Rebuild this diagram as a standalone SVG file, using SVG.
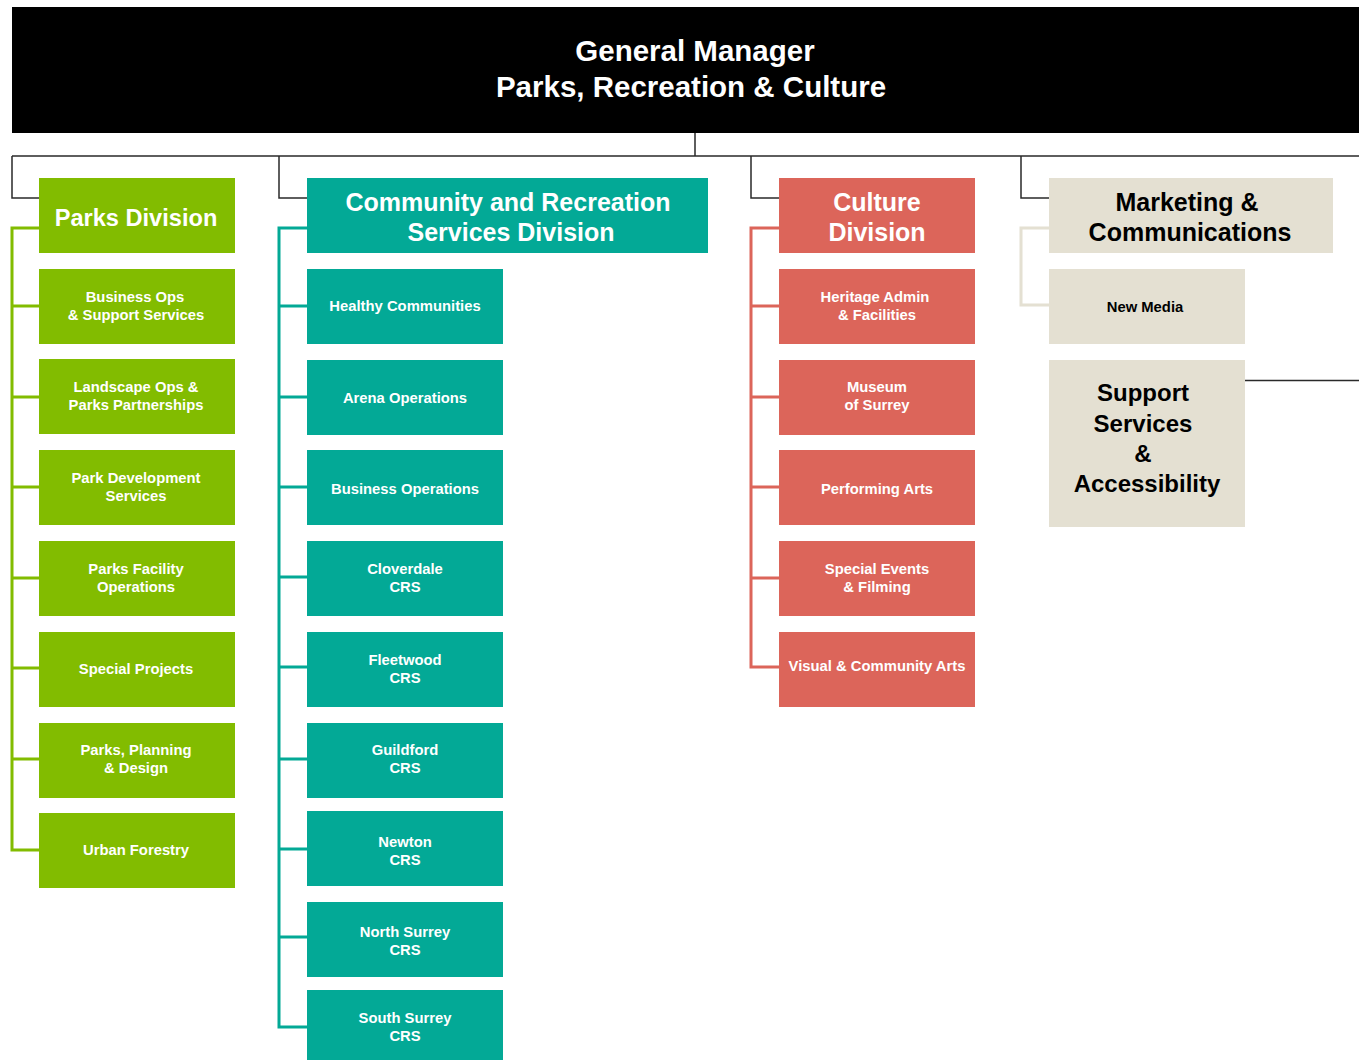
<svg xmlns="http://www.w3.org/2000/svg" width="1359" height="1060" viewBox="0 0 1359 1060">
<style>
text{font-family:"Liberation Sans",Arial,sans-serif;font-weight:bold;text-anchor:middle}
.w{fill:#fff}
.k{fill:#000}
.big{font-size:25px}
.sm{font-size:14.8px}
.g{fill:#82bc00}
.t{fill:#03a996}
.r{fill:#dc655a}
.b{fill:#e4e0d2}
.ln{fill:none;stroke:#2a2a2a;stroke-width:1.5}
.lg{fill:none;stroke:#82bc00;stroke-width:3}
.lt{fill:none;stroke:#03a996;stroke-width:3}
.lr{fill:none;stroke:#dc655a;stroke-width:3}
.lb{fill:none;stroke:#e4e0d2;stroke-width:3}
</style>
<rect width="1359" height="1060" fill="#fff"/>
<g id="connectors">
<path class="ln" d="M695 133V156M12 156H1359M12 156V198H39M279 156V198H307M751 156V198H779M1021 156V198H1049M1245 380.5H1359"/>
<path class="lg" d="M39 228H12V850H39M12 306H39M12 397H39M12 487H39M12 578H39M12 668H39M12 759H39"/>
<path class="lt" d="M307 228H279V1027H307M279 306H307M279 397H307M279 487H307M279 577H307M279 667H307M279 759H307M279 849H307M279 937H307"/>
<path class="lr" d="M779 228H751V667H779M751 306H779M751 397H779M751 487H779M751 578H779"/>
<path class="lb" d="M1049 228H1021V305H1049"/>
</g>
<g id="gm"><rect x="12" y="7" width="1347" height="126" fill="#000"/><text class="w" x="695" y="61" font-size="29.5">General Manager</text><text class="w" x="691" y="97" font-size="29.5">Parks, Recreation &amp; Culture</text></g>
<g id="parks"><rect class="g" x="39" y="178" width="196" height="75"/><text class="w" x="136" y="226" font-size="23.6">Parks Division</text></g>
<g id="p1"><rect class="g" x="39" y="269" width="196" height="75"/><text class="w sm" x="135" y="302">Business Ops</text><text class="w sm" x="136" y="320">&amp; Support Services</text></g>
<g id="p2"><rect class="g" x="39" y="359" width="196" height="75"/><text class="w sm" x="136" y="392">Landscape Ops &amp;</text><text class="w sm" x="136" y="410">Parks Partnerships</text></g>
<g id="p3"><rect class="g" x="39" y="450" width="196" height="75"/><text class="w sm" x="136" y="483">Park Development</text><text class="w sm" x="136" y="501">Services</text></g>
<g id="p4"><rect class="g" x="39" y="541" width="196" height="75"/><text class="w sm" x="136" y="574">Parks Facility</text><text class="w sm" x="136" y="592">Operations</text></g>
<g id="p5"><rect class="g" x="39" y="632" width="196" height="75"/><text class="w sm" x="136" y="674">Special Projects</text></g>
<g id="p6"><rect class="g" x="39" y="723" width="196" height="75"/><text class="w sm" x="136" y="755">Parks, Planning</text><text class="w sm" x="136" y="773">&amp; Design</text></g>
<g id="p7"><rect class="g" x="39" y="813" width="196" height="75"/><text class="w sm" x="136" y="855">Urban Forestry</text></g>
<g id="crs"><rect class="t" x="307" y="178" width="401" height="75"/><text class="w big" x="508" y="211">Community and Recreation</text><text class="w big" x="511" y="241">Services Division</text></g>
<g id="c1"><rect class="t" x="307" y="269" width="196" height="75"/><text class="w sm" x="405" y="311">Healthy Communities</text></g>
<g id="c2"><rect class="t" x="307" y="360" width="196" height="75"/><text class="w sm" x="405" y="403">Arena Operations</text></g>
<g id="c3"><rect class="t" x="307" y="450" width="196" height="75"/><text class="w sm" x="405" y="494">Business Operations</text></g>
<g id="c4"><rect class="t" x="307" y="541" width="196" height="75"/><text class="w sm" x="405" y="574">Cloverdale</text><text class="w sm" x="405" y="592">CRS</text></g>
<g id="c5"><rect class="t" x="307" y="632" width="196" height="75"/><text class="w sm" x="405" y="665">Fleetwood</text><text class="w sm" x="405" y="683">CRS</text></g>
<g id="c6"><rect class="t" x="307" y="723" width="196" height="75"/><text class="w sm" x="405" y="755">Guildford</text><text class="w sm" x="405" y="773">CRS</text></g>
<g id="c7"><rect class="t" x="307" y="811" width="196" height="75"/><text class="w sm" x="405" y="847">Newton</text><text class="w sm" x="405" y="865">CRS</text></g>
<g id="c8"><rect class="t" x="307" y="902" width="196" height="75"/><text class="w sm" x="405" y="937">North Surrey</text><text class="w sm" x="405" y="955">CRS</text></g>
<g id="c9"><rect class="t" x="307" y="990" width="196" height="70"/><text class="w sm" x="405" y="1023">South Surrey</text><text class="w sm" x="405" y="1041">CRS</text></g>
<g id="culture"><rect class="r" x="779" y="178" width="196" height="75"/><text class="w big" x="877" y="211">Culture</text><text class="w big" x="877" y="241">Division</text></g>
<g id="u1"><rect class="r" x="779" y="269" width="196" height="75"/><text class="w sm" x="875" y="302">Heritage Admin</text><text class="w sm" x="877" y="320">&amp; Facilities</text></g>
<g id="u2"><rect class="r" x="779" y="360" width="196" height="75"/><text class="w sm" x="877" y="392">Museum</text><text class="w sm" x="877" y="410">of Surrey</text></g>
<g id="u3"><rect class="r" x="779" y="450" width="196" height="75"/><text class="w sm" x="877" y="494">Performing Arts</text></g>
<g id="u4"><rect class="r" x="779" y="541" width="196" height="75"/><text class="w sm" x="877" y="574">Special Events</text><text class="w sm" x="877" y="592">&amp; Filming</text></g>
<g id="u5"><rect class="r" x="779" y="632" width="196" height="75"/><text class="w sm" x="877" y="671">Visual &amp; Community Arts</text></g>
<g id="mkt"><rect class="b" x="1049" y="178" width="284" height="75"/><text class="k big" x="1187" y="211">Marketing &amp;</text><text class="k big" x="1190" y="241">Communications</text></g>
<g id="m1"><rect class="b" x="1049" y="269" width="196" height="75"/><text class="k sm" x="1145" y="312">New Media</text></g>
<g id="support"><rect class="b" x="1049" y="360" width="196" height="167"/><text class="k" x="1143" y="401" font-size="24">Support</text><text class="k" x="1143" y="432" font-size="24">Services</text><text class="k" x="1143" y="462" font-size="24">&amp;</text><text class="k" x="1147" y="492" font-size="24">Accessibility</text></g>
</svg>
